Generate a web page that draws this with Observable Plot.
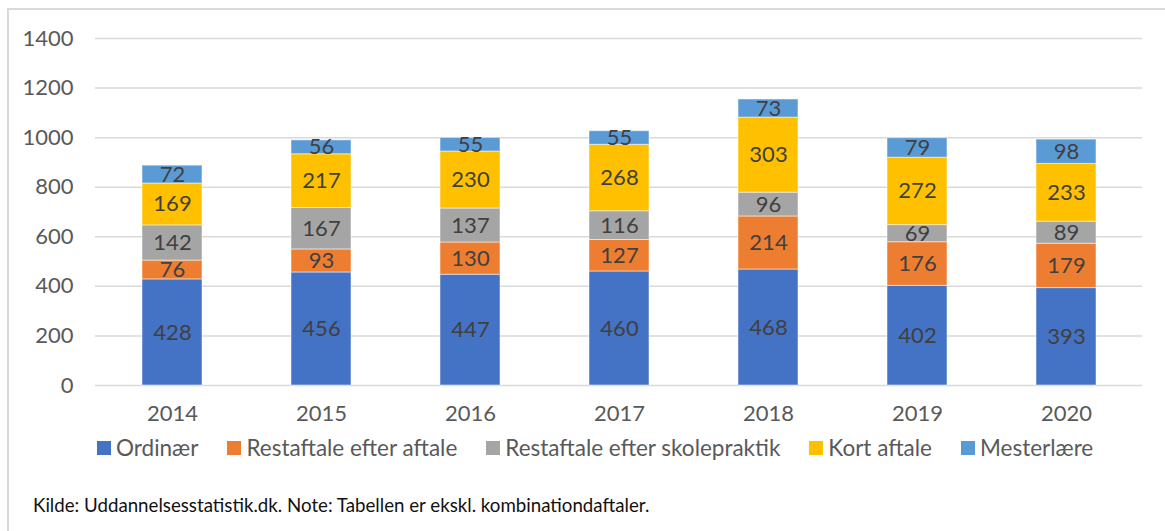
<!DOCTYPE html>
<html>
<head>
<meta charset="utf-8">
<script src="https://cdn.jsdelivr.net/npm/d3@7"></script>
<script src="https://cdn.jsdelivr.net/npm/@observablehq/plot@0.6"></script>
<style>
  html, body { margin: 0; padding: 0; background: #fff; }
  #wrap { position: relative; width: 1165px; height: 531px; overflow: hidden; font-family: Lato, "Open Sans", sans-serif; }
  #frame { position: absolute; left: 7px; top: 8px; right: -10px; bottom: -10px; border-left: 2px solid #d9d9d9; border-top: 2px solid #d9d9d9; }
  #chart { position: absolute; left: 0; top: 0; }
  #legend { position: absolute; left: 97px; top: 434px; display: flex; gap: 29px; font-size: 22.5px; line-height: 27px; color: #595959; white-space: nowrap; }
  #legend .item { display: flex; align-items: center; gap: 5px; }
  #legend .sw { width: 14px; height: 14px; display: inline-block; }
  #caption { position: absolute; left: 33px; top: 494px; font-size: 18.7px; line-height: 22px; color: #111; white-space: nowrap; }
</style>
</head>
<body>
<div id="wrap">
  <div id="frame"></div>
  <div id="chart"></div>
  <div id="legend"></div>
  <div id="caption">Kilde: Uddannelsesstatistik.dk. Note: Tabellen er ekskl. kombinationdaftaler.</div>
</div>
<script>
const years = ["2014", "2015", "2016", "2017", "2018", "2019", "2020"];
const seriesNames = ["Ordinær", "Restaftale efter aftale", "Restaftale efter skolepraktik", "Kort aftale", "Mesterlære"];
const seriesColors = ["#4472C4", "#ED7D31", "#A5A5A5", "#FFC000", "#5B9BD5"];
const ordinaer = [428, 456, 447, 460, 468, 402, 393];
const restEfterAftale = [76, 93, 130, 127, 214, 176, 179];
const restEfterSkole = [142, 167, 137, 116, 96, 69, 89];
const kortAftale = [169, 217, 230, 268, 303, 272, 233];
const mesterlaere = [72, 56, 55, 55, 73, 79, 98];
const yTicks = [0, 200, 400, 600, 800, 1000, 1200, 1400];

const seriesValues = [ordinaer, restEfterAftale, restEfterSkole, kortAftale, mesterlaere];
const data = [];
seriesNames.forEach((s, i) => {
  years.forEach((y, j) => data.push({year: y, series: s, value: seriesValues[i][j]}));
});

const font = "Lato, 'Open Sans', sans-serif";
const chart = Plot.plot({
  width: 1165,
  height: 430,
  marginLeft: 95,
  marginRight: 23,
  marginTop: 38,
  marginBottom: 45,
  style: {fontFamily: font, background: "transparent", overflow: "visible"},
  x: {domain: years, paddingInner: 0.6, paddingOuter: 0.3, label: null},
  y: {domain: [0, 1400], label: null},
  color: {domain: seriesNames, range: seriesColors},
  marks: [
    Plot.ruleY(yTicks, {stroke: "#d9d9d9", strokeWidth: 1.5}),
    Plot.barY(data, Plot.stackY({x: "year", y: "value", z: "series", fill: "series", order: seriesNames, stroke: "#ffffff", strokeOpacity: 0.5, strokeWidth: 1})),
    Plot.text(data, Plot.stackY({x: "year", y: "value", z: "series", order: seriesNames, text: d => String(d.value), fill: "#404040", fontSize: 22})),
    Plot.axisY({ticks: yTicks, tickFormat: d => String(d), tickSize: 0, tickPadding: 22, fontSize: 22, fill: "#595959", label: null}),
    Plot.axisX({tickSize: 0, tickPadding: 20, fontSize: 22, fill: "#595959", label: null})
  ]
});
document.getElementById("chart").appendChild(chart);

const legend = document.getElementById("legend");
seriesNames.forEach((s, i) => {
  const item = document.createElement("div");
  item.className = "item";
  const sw = document.createElement("span");
  sw.className = "sw";
  sw.style.background = seriesColors[i];
  const t = document.createElement("span");
  t.textContent = s;
  item.appendChild(sw);
  item.appendChild(t);
  legend.appendChild(item);
});
</script>
</body>
</html>
